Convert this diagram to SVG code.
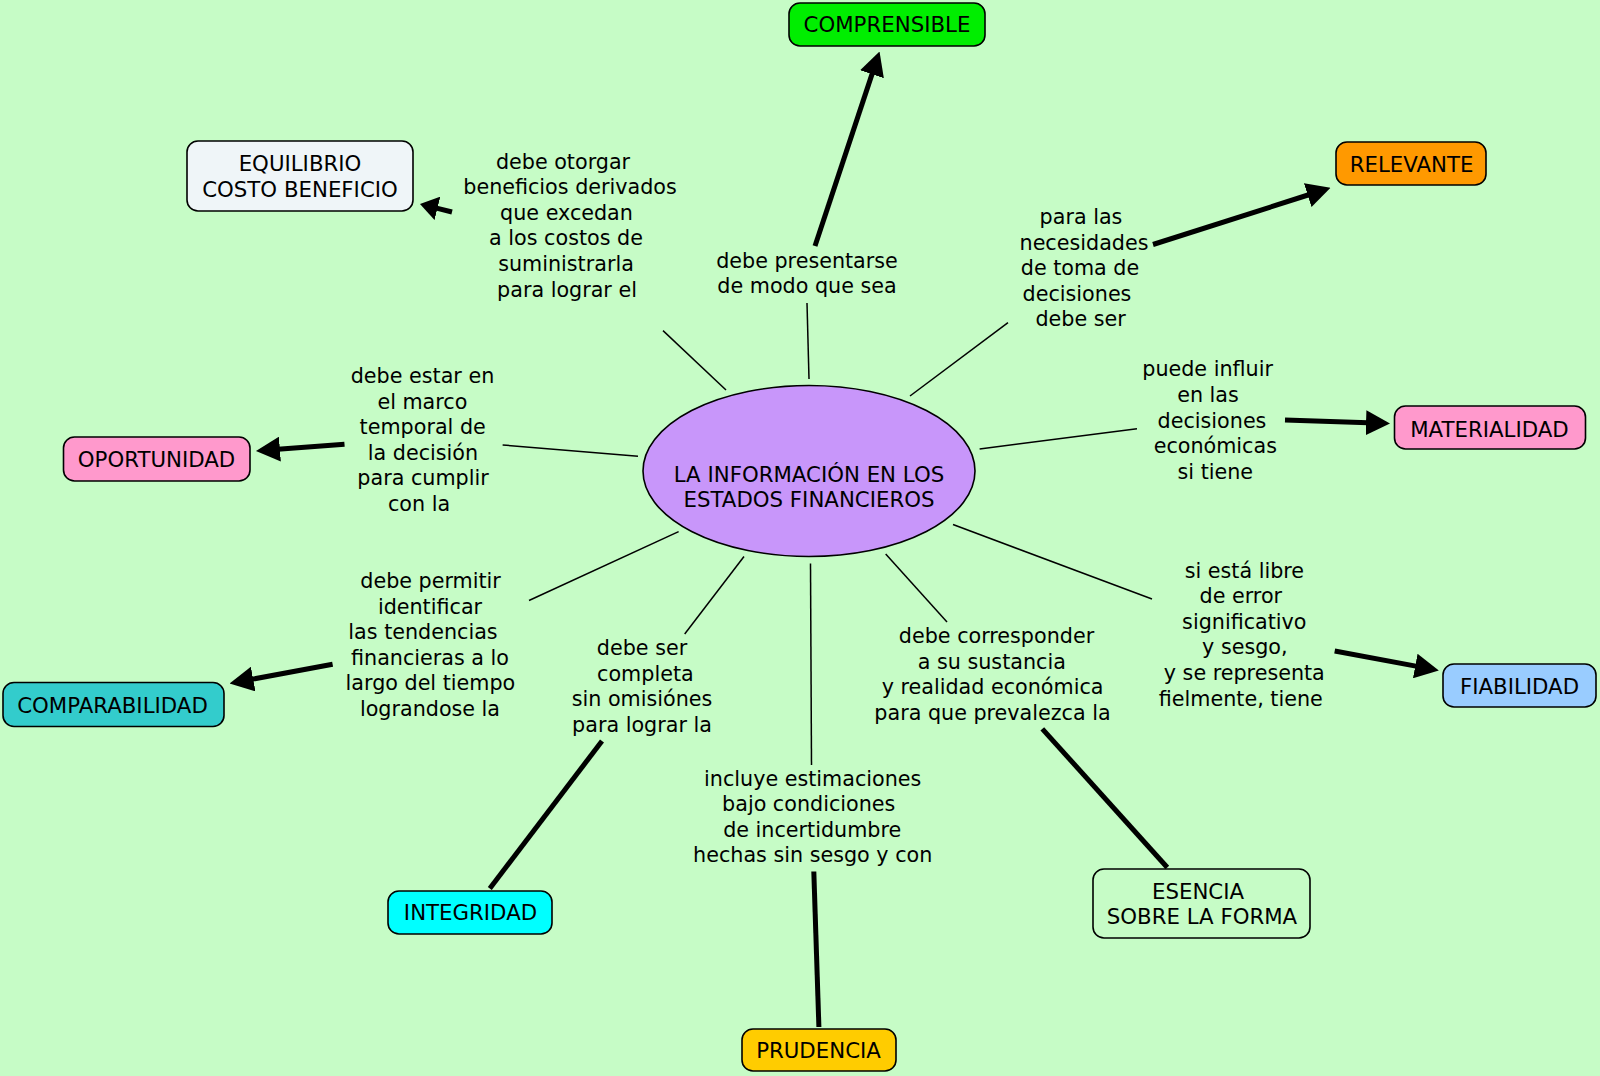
<svg xmlns="http://www.w3.org/2000/svg" width="1600" height="1076" viewBox="0 0 1600 1076">
<style>
  .bg { fill: #c6fcc6; }
  .node { stroke: #000; stroke-width: 1.6; }
  .nt { font-family: "DejaVu Sans", Verdana, sans-serif; font-size: 21.3px; fill: #000; text-anchor: middle; }
  .lt { font-family: "DejaVu Sans", Verdana, sans-serif; font-size: 20.7px; fill: #000; text-anchor: middle; }
  .thin { stroke: #000; stroke-width: 1.5; fill: none; }
  .thick { stroke: #000; stroke-width: 5; fill: none; }
  .arr { marker-end: url(#ah); }
</style>
<defs>
  <marker id="ah" viewBox="0 0 24 25" refX="2" refY="12.5" markerWidth="24" markerHeight="25" orient="auto" markerUnits="userSpaceOnUse">
    <path d="M0,0 L24,12.5 L0,25 z" fill="#000"/>
  </marker>
  <marker id="ahs" viewBox="0 0 18 24" refX="2" refY="12" markerWidth="18" markerHeight="24" orient="auto" markerUnits="userSpaceOnUse">
    <path d="M0,0 L18,12 L0,24 z" fill="#000"/>
  </marker>
</defs>
<rect class="bg" x="0" y="0" width="1600" height="1076"/>

<g id="connectors">
  <line class="thin" x1="726" y1="390" x2="663" y2="330.6"/>
  <line class="thin" x1="809" y1="379" x2="807" y2="303"/>
  <line class="thin" x1="910" y1="396" x2="1008" y2="322.6"/>
  <line class="thin" x1="979.6" y1="449" x2="1137" y2="428.7"/>
  <line class="thin" x1="638" y1="456.2" x2="502.6" y2="445"/>
  <line class="thin" x1="678.6" y1="531.6" x2="529" y2="600.5"/>
  <line class="thin" x1="744" y1="556.5" x2="684.7" y2="634"/>
  <line class="thin" x1="810.5" y1="563.5" x2="811.5" y2="765"/>
  <line class="thin" x1="885.7" y1="554" x2="947" y2="622"/>
  <line class="thin" x1="953" y1="524.5" x2="1152" y2="599"/>

  <line class="thick arr" x1="815" y1="246" x2="872.6" y2="72.4"/>
  <line class="thick arr" x1="1153" y1="244.5" x2="1309.6" y2="194.5"/>
  <line class="thick arr" x1="1285" y1="420" x2="1368" y2="422.8"/>
  <line class="thick arr" x1="1334.7" y1="651" x2="1417.2" y2="666.4"/>
  <line class="thick arr" x1="344.5" y1="444.2" x2="277.9" y2="449.3"/>
  <line class="thick arr" x1="332.6" y1="664.2" x2="251.2" y2="679.4"/>
  <line class="thick" x1="452" y1="212" x2="435.5" y2="207.9" marker-end="url(#ahs)"/>
  <line class="thick" x1="602" y1="741" x2="489.8" y2="888.5"/>
  <line class="thick" x1="813.8" y1="871.5" x2="818.9" y2="1027"/>
  <line class="thick" x1="1042.3" y1="728.8" x2="1167.3" y2="867.5"/>
</g>

<g id="labels">
  <text class="lt"><tspan x="563" y="168.5">debe otorgar</tspan><tspan x="570" y="194.1">beneficios derivados</tspan><tspan x="566.5" y="219.7">que excedan</tspan><tspan x="566" y="245.3">a los costos de</tspan><tspan x="566" y="270.9">suministrarla</tspan><tspan x="567" y="296.5">para lograr el</tspan></text>
  <text class="lt"><tspan x="807" y="267.5">debe presentarse</tspan><tspan x="807" y="293.1">de modo que sea</tspan></text>
  <text class="lt"><tspan x="1081" y="224">para las</tspan><tspan x="1084" y="249.6">necesidades</tspan><tspan x="1080" y="275.2">de toma de</tspan><tspan x="1077" y="300.8">decisiones</tspan><tspan x="1080.6" y="326.4">debe ser</tspan></text>
  <text class="lt"><tspan x="1207.6" y="376.4">puede influir</tspan><tspan x="1208" y="402">en las</tspan><tspan x="1212" y="427.6">decisiones</tspan><tspan x="1215.3" y="453.2">económicas</tspan><tspan x="1215.3" y="478.8">si tiene</tspan></text>
  <text class="lt"><tspan x="422.5" y="383">debe estar en</tspan><tspan x="422.4" y="408.6">el marco</tspan><tspan x="422.7" y="434.2">temporal de</tspan><tspan x="423" y="459.8">la decisión</tspan><tspan x="423" y="485.4">para cumplir</tspan><tspan x="419" y="511">con la</tspan></text>
  <text class="lt"><tspan x="430.6" y="588">debe permitir</tspan><tspan x="430" y="613.6">identificar</tspan><tspan x="423" y="639.2">las tendencias</tspan><tspan x="430" y="664.8">financieras a lo</tspan><tspan x="430.4" y="690.4">largo del tiempo</tspan><tspan x="430" y="716">lograndose la</tspan></text>
  <text class="lt"><tspan x="642" y="655">debe ser</tspan><tspan x="645.4" y="680.6">completa</tspan><tspan x="642" y="706.2">sin omisiónes</tspan><tspan x="642" y="731.8">para lograr la</tspan></text>
  <text class="lt"><tspan x="812.7" y="785.5">incluye estimaciones</tspan><tspan x="808.7" y="811.1">bajo condiciones</tspan><tspan x="812.2" y="836.7">de incertidumbre</tspan><tspan x="812.7" y="862.3">hechas sin sesgo y con</tspan></text>
  <text class="lt"><tspan x="996.5" y="643">debe corresponder</tspan><tspan x="991.8" y="668.6">a su sustancia</tspan><tspan x="992.6" y="694.2">y realidad económica</tspan><tspan x="992.5" y="719.8">para que prevalezca la</tspan></text>
  <text class="lt"><tspan x="1244.4" y="577.5">si está libre</tspan><tspan x="1240.8" y="603.1">de error</tspan><tspan x="1244.3" y="628.7">significativo</tspan><tspan x="1244.8" y="654.3">y sesgo,</tspan><tspan x="1244.3" y="679.9">y se representa</tspan><tspan x="1240.8" y="705.5">fielmente, tiene</tspan></text>
</g>

<g id="center">
  <ellipse class="node" cx="809" cy="471" rx="166" ry="85.5" fill="#c896fa"/>
  <text class="nt"><tspan x="809" y="481.5">LA INFORMACIÓN EN LOS</tspan><tspan x="809" y="507">ESTADOS FINANCIEROS</tspan></text>
</g>
<g id="comprensible">
  <rect class="node" x="789" y="3" width="196" height="43" rx="11" fill="#00ee00"/>
  <text class="nt" x="887" y="32">COMPRENSIBLE</text>
</g>
<g id="equilibrio">
  <rect class="node" x="187" y="141" width="226" height="70" rx="11" fill="#eff5f8"/>
  <text class="nt"><tspan x="300" y="171">EQUILIBRIO</tspan><tspan x="300" y="196.6">COSTO BENEFICIO</tspan></text>
</g>
<g id="relevante">
  <rect class="node" x="1336" y="142" width="150" height="43" rx="11" fill="#ff9900"/>
  <text class="nt" x="1411.5" y="172">RELEVANTE</text>
</g>
<g id="materialidad">
  <rect class="node" x="1394.5" y="406" width="191" height="43" rx="11" fill="#ff99cc"/>
  <text class="nt" x="1489.5" y="436.5">MATERIALIDAD</text>
</g>
<g id="oportunidad">
  <rect class="node" x="63.5" y="437" width="186.5" height="44" rx="11" fill="#ff99cc"/>
  <text class="nt" x="156.5" y="466.5">OPORTUNIDAD</text>
</g>
<g id="comparabilidad">
  <rect class="node" x="3" y="682.5" width="221" height="44" rx="11" fill="#33cccc"/>
  <text class="nt" x="112.5" y="712.5">COMPARABILIDAD</text>
</g>
<g id="fiabilidad">
  <rect class="node" x="1443" y="664" width="153" height="43" rx="11" fill="#99ccff"/>
  <text class="nt" x="1519.5" y="694.4">FIABILIDAD</text>
</g>
<g id="integridad">
  <rect class="node" x="388" y="891" width="164" height="43" rx="11" fill="#00ffff"/>
  <text class="nt" x="470.5" y="920">INTEGRIDAD</text>
</g>
<g id="prudencia">
  <rect class="node" x="742" y="1029" width="154" height="42" rx="11" fill="#ffcc00"/>
  <text class="nt" x="818.5" y="1058">PRUDENCIA</text>
</g>
<g id="esencia">
  <rect class="node" x="1093" y="869" width="217" height="69" rx="11" fill="#c6fcc6"/>
  <text class="nt"><tspan x="1198" y="898.6">ESENCIA</tspan><tspan x="1202" y="924.4">SOBRE LA FORMA</tspan></text>
</g>
</svg>
